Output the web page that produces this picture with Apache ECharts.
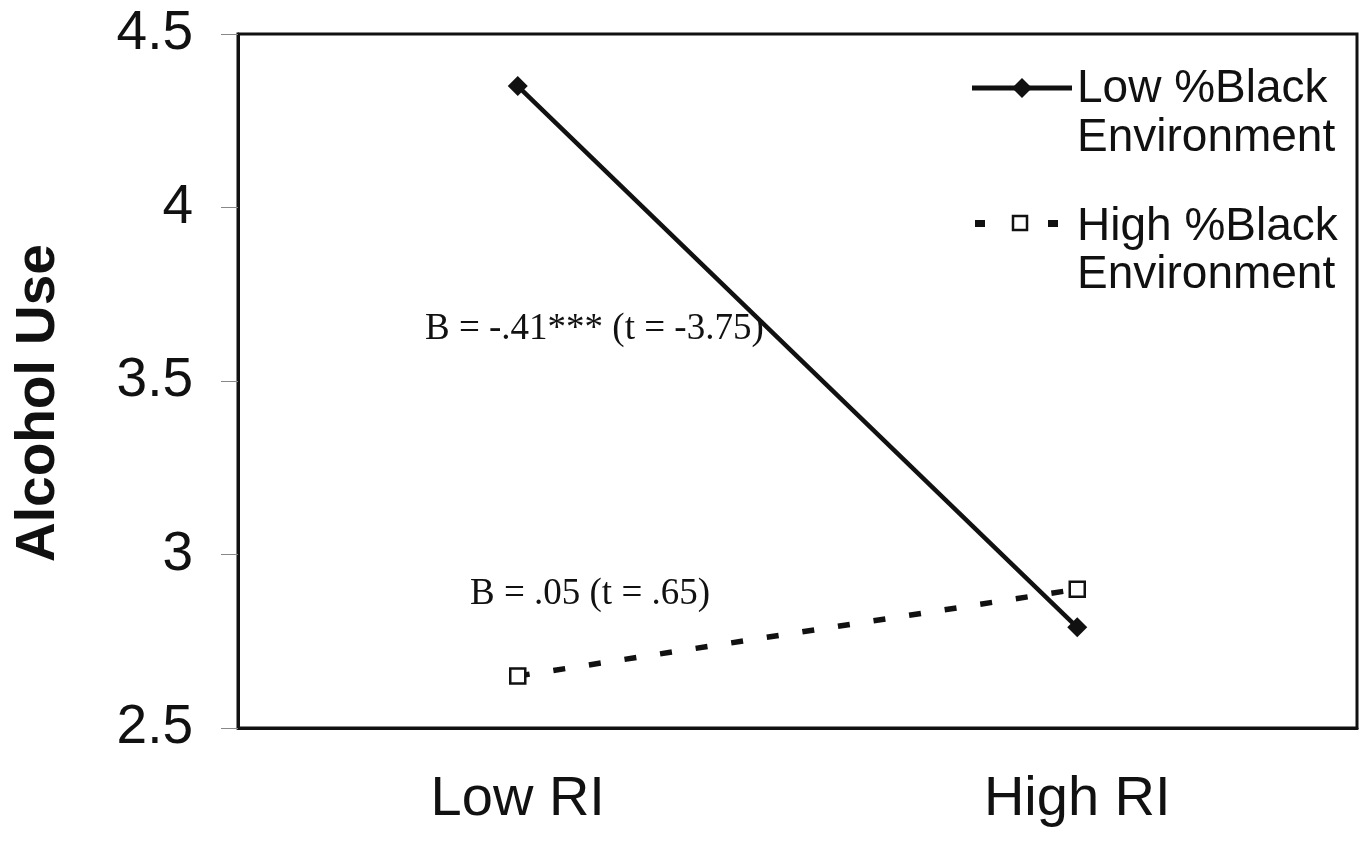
<!DOCTYPE html>
<html><head><meta charset="utf-8">
<script src="https://cdn.jsdelivr.net/npm/echarts@6/dist/echarts.min.js"></script>
<style>html,body{margin:0;padding:0;background:#fff}#c{width:1365px;height:848px}</style>
</head><body><div id="c"></div>
<script>
const categories = ['Low RI', 'High RI'];
const lowBlack = [4.35, 2.79];
const highBlack = [2.65, 2.90];
const seriesNames = ['Low %Black Environment', 'High %Black Environment'];
const yTicks = [2.5, 3, 3.5, 4, 4.5];
const annotations = ['B = -.41*** (t = -3.75)', 'B = .05 (t = .65)'];

const chart = echarts.init(document.getElementById('c'));
const font = 'Arial, "Liberation Sans", sans-serif';
const serif = '"Liberation Serif", "Times New Roman", serif';
chart.setOption({
  animation: false,
  grid: {left: 238, top: 34, right: 8, bottom: 120, show: true, borderColor: '#111', borderWidth: 3},
  xAxis: {
    type: 'category', data: categories, boundaryGap: true,
    axisLine: {show: true, lineStyle: {color: '#111', width: 3}},
    axisTick: {show: false},
    axisLabel: {fontFamily: font, fontSize: 56, color: '#111', margin: 44}
  },
  yAxis: {
    type: 'value', min: 2.5, max: 4.5, interval: 0.5,
    name: 'Alcohol Use', nameLocation: 'middle', nameGap: 172,
    nameTextStyle: {fontFamily: font, fontSize: 55, fontWeight: 'bold', color: '#111', padding: [0, 44, 0, 0]},
    axisLine: {show: true, lineStyle: {color: '#111', width: 3}},
    axisTick: {show: true, length: 17, lineStyle: {color: '#888', width: 1}},
    splitLine: {show: false},
    axisLabel: {fontFamily: font, fontSize: 55, color: '#111', margin: 45,
      formatter: v => yTicks.indexOf(v) >= 0 ? String(v) : ''}
  },
  series: [
    {name: seriesNames[0], type: 'line', data: lowBlack, symbol: 'diamond', symbolSize: 20,
      lineStyle: {color: '#111', width: 4.5}, itemStyle: {color: '#111'}},
    {name: seriesNames[1], type: 'line', data: highBlack, symbol: 'rect', symbolSize: 15,
      lineStyle: {color: '#111', width: 5.5, type: [12, 24]},
      itemStyle: {color: '#fff', borderColor: '#111', borderWidth: 2.5}}
  ],
  graphic: [
    {type: 'text', left: 425, top: 311, style: {text: annotations[0], font: '37px ' + serif, fill: '#111'}},
    {type: 'text', left: 470, top: 576, style: {text: annotations[1], font: '37px ' + serif, fill: '#111'}},
    {type: 'line', shape: {x1: 972, y1: 88, x2: 1072, y2: 88}, style: {stroke: '#111', lineWidth: 5}},
    {type: 'polygon', shape: {points: [[1022, 78], [1032, 88], [1022, 98], [1012, 88]]}, style: {fill: '#111'}},
    {type: 'text', left: 1077, top: 65, style: {text: 'Low %Black\nEnvironment', font: '46px ' + font, fill: '#111', lineHeight: 49}},
    {type: 'rect', shape: {x: 975, y: 220, width: 10, height: 7}, style: {fill: '#111'}},
    {type: 'rect', shape: {x: 1013, y: 216, width: 14, height: 14}, style: {fill: '#fff', stroke: '#111', lineWidth: 2.5}},
    {type: 'rect', shape: {x: 1048, y: 220, width: 10, height: 7}, style: {fill: '#111'}},
    {type: 'text', left: 1077, top: 203, style: {text: 'High %Black\nEnvironment', font: '46px ' + font, fill: '#111', lineHeight: 48}}
  ]
});
</script></body></html>
